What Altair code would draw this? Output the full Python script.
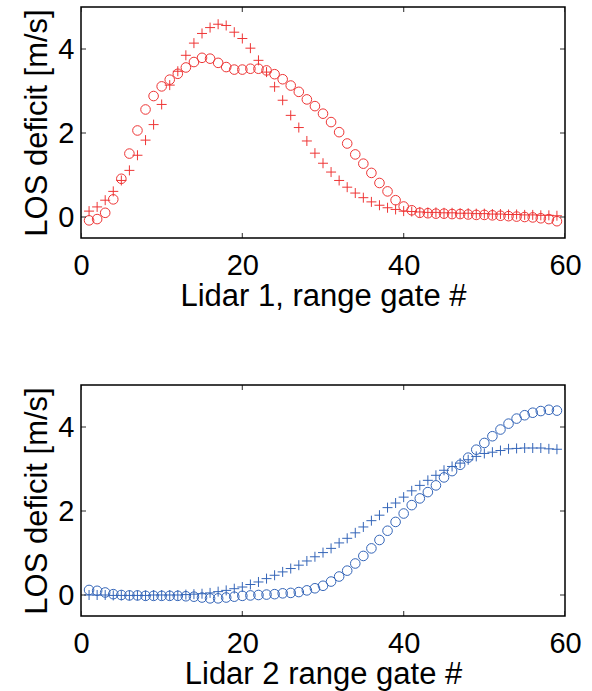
import altair as alt
import pandas as pd

# ---- data ----
gates = list(range(1, 60))

lidar1_circle = [-0.08, -0.05, 0.10, 0.42, 0.91, 1.51, 2.06, 2.56, 2.88, 3.11,
                 3.27, 3.41, 3.56, 3.69, 3.79, 3.77, 3.67, 3.57, 3.51, 3.51,
                 3.53, 3.53, 3.49, 3.40, 3.28, 3.13, 2.98, 2.80, 2.64, 2.46,
                 2.26, 2.02, 1.75, 1.49, 1.27, 1.05, 0.81, 0.61, 0.40, 0.25,
                 0.16, 0.10, 0.09, 0.08, 0.08, 0.07, 0.07, 0.06, 0.05, 0.05,
                 0.04, 0.03, 0.02, 0.01, 0.00, -0.01, -0.03, -0.05, -0.10]

lidar1_plus = [0.14, 0.24, 0.40, 0.61, 0.87, 1.11, 1.47, 1.83, 2.20, 2.68,
               3.14, 3.47, 3.85, 4.14, 4.37, 4.51, 4.59, 4.56, 4.40, 4.25,
               4.02, 3.73, 3.45, 3.10, 2.78, 2.42, 2.13, 1.81, 1.52, 1.28,
               1.07, 0.87, 0.71, 0.57, 0.46, 0.36, 0.28, 0.22, 0.18, 0.14,
               0.13, 0.12, 0.11, 0.11, 0.10, 0.10, 0.09, 0.09, 0.08, 0.08,
               0.07, 0.07, 0.06, 0.06, 0.05, 0.05, 0.04, 0.04, 0.03]

lidar2_circle = [0.12, 0.10, 0.06, 0.02, 0.00, -0.01, -0.01, -0.02, -0.02, -0.02,
                 -0.02, -0.02, -0.03, -0.04, -0.06, -0.08, -0.08, -0.06, -0.04, -0.02,
                 -0.01, 0.00, 0.01, 0.02, 0.04, 0.05, 0.07, 0.11, 0.16, 0.22,
                 0.32, 0.44, 0.58, 0.75, 0.93, 1.11, 1.31, 1.53, 1.74, 1.94,
                 2.14, 2.30, 2.45, 2.61, 2.80, 2.95, 3.10, 3.27, 3.46, 3.62,
                 3.78, 3.94, 4.08, 4.20, 4.28, 4.34, 4.38, 4.41, 4.39]

lidar2_plus = [0.00, 0.00, 0.00, -0.01, -0.01, -0.01, -0.01, -0.01, 0.00, 0.00,
               0.00, 0.00, 0.01, 0.02, 0.03, 0.05, 0.08, 0.11, 0.15, 0.19,
               0.25, 0.31, 0.39, 0.47, 0.55, 0.63, 0.71, 0.81, 0.91, 1.01,
               1.11, 1.24, 1.35, 1.48, 1.62, 1.77, 1.90, 2.08, 2.19, 2.33,
               2.48, 2.61, 2.73, 2.85, 2.97, 3.06, 3.14, 3.22, 3.30, 3.37,
               3.40, 3.44, 3.48, 3.49, 3.50, 3.50, 3.50, 3.48, 3.47]

x_ticks = [0, 20, 40, 60]
y_ticks = [0, 2, 4]
x_domain = [0, 60]
y_domain = [-0.5, 5]

x_title_1 = "Lidar 1, range gate #"
x_title_2 = "Lidar 2 range gate #"
y_title = "LOS deficit [m/s]"

RED = "#ee3535"
BLUE = "#3465b8"
FONT = "Liberation Sans"
PLUS = "M-1,0L1,0M0,-1L0,1"
W, H = 484, 231


def panel(circ, plus, color, xtitle, title_y):
    df = pd.DataFrame({"gate": gates, "circle": circ, "plus": plus})
    xs = alt.Scale(domain=x_domain, nice=False, zero=False)
    ys = alt.Scale(domain=y_domain, nice=False, zero=False)
    xax = alt.Axis(values=x_ticks, title=xtitle, ticks=False, domain=False,
                   grid=False, labelPadding=13, titleY=title_y,
                   titleBaseline="alphabetic", labelFlush=False,
                   labelOverlap=False, format="d")
    yax = alt.Axis(values=y_ticks, title=y_title, ticks=False, domain=False,
                   grid=False, labelPadding=7, titleX=-35,
                   titleBaseline="alphabetic", labelOverlap=False, format="d")

    circles = alt.Chart(df).mark_point(
        shape="circle", filled=False, color=color, size=92,
        strokeWidth=1, opacity=1
    ).encode(x=alt.X("gate:Q", scale=xs, axis=xax),
             y=alt.Y("circle:Q", scale=ys, axis=yax))

    pluses = alt.Chart(df).mark_point(
        shape=PLUS, filled=False, color=color, size=100,
        strokeWidth=1, opacity=1
    ).encode(x=alt.X("gate:Q", scale=xs, axis=xax),
             y=alt.Y("plus:Q", scale=ys, axis=yax))

    xt = pd.DataFrame([{"v": v, "e": e} for v in x_ticks for e in y_domain])
    yt = pd.DataFrame([{"v": v, "e": e} for v in y_ticks for e in x_domain])

    xtick_layer = alt.Chart(xt).mark_tick(
        orient="vertical", size=10, thickness=1.2, color="black", clip=True
    ).encode(x=alt.X("v:Q", scale=xs, axis=xax),
             y=alt.Y("e:Q", scale=ys, axis=yax))

    ytick_layer = alt.Chart(yt).mark_tick(
        orient="horizontal", size=10, thickness=1.2, color="black", clip=True
    ).encode(x=alt.X("e:Q", scale=xs, axis=xax),
             y=alt.Y("v:Q", scale=ys, axis=yax))

    return alt.layer(circles, pluses, xtick_layer, ytick_layer).properties(
        width=W, height=H)


top = panel(lidar1_circle, lidar1_plus, RED, x_title_1, 67)
bottom = panel(lidar2_circle, lidar2_plus, BLUE, x_title_2, 67)

chart = alt.vconcat(top, bottom, spacing=72).properties(
    padding={"left": 20, "top": 6, "right": 5, "bottom": 5},
    background="white"
).configure_view(
    stroke="black", strokeWidth=1.5
).configure_axis(
    labelFont=FONT, labelFontSize=29, labelColor="black",
    titleFont=FONT, titleFontSize=31, titleColor="black",
    titleFontWeight="normal"
)

chart.save("out.html", embed_options={"renderer": "svg", "actions": False})
